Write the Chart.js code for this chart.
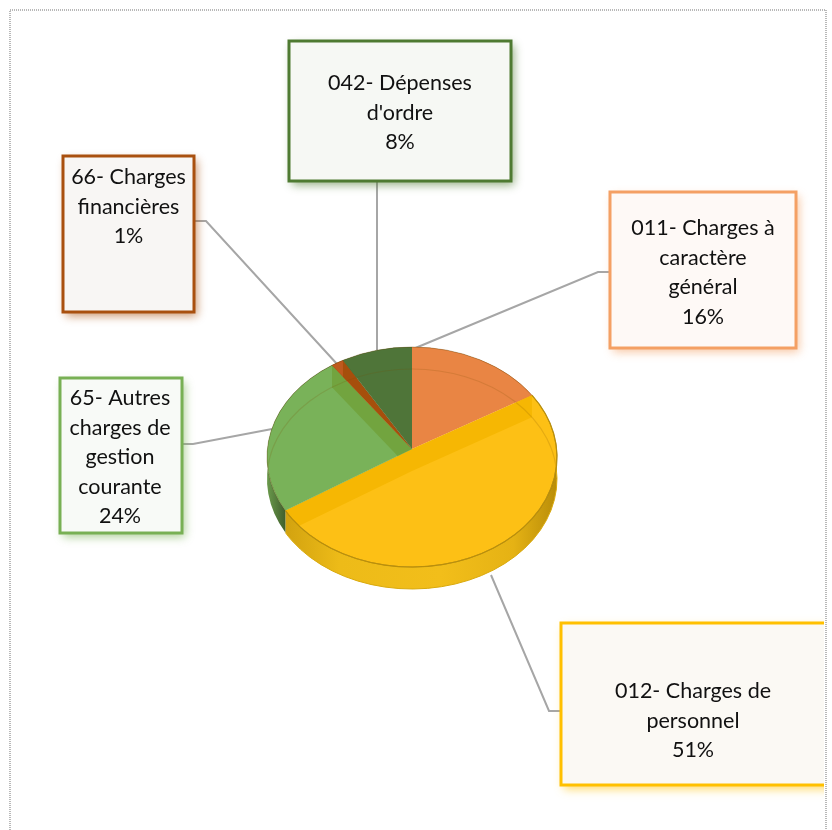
<!DOCTYPE html>
<html>
<head>
<meta charset="utf-8">
<title>Dépenses</title>
<script src="https://cdn.jsdelivr.net/npm/chart.js@4/dist/chart.umd.min.js"></script>
<style>
  html, body { margin: 0; padding: 0; background: #fff; }
  canvas { display: block; }
</style>
</head>
<body>
<canvas id="camembert" width="832" height="830"></canvas>
<script>
// Donnees
var categories = ["011- Charges à caractère général", "012- Charges de personnel", "65- Autres charges de gestion courante", "66- Charges financières", "042- Dépenses d'ordre"];
var valeurs = [15.5, 51.4, 23.8, 1.4, 7.9];
var lignes = [
  ["011- Charges à", "caractère", "général"],
  ["012- Charges de", "personnel"],
  ["65- Autres", "charges de", "gestion", "courante"],
  ["66- Charges", "financières"],
  ["042- Dépenses", "d'ordre"]
];

// Couleurs
var couleurs = ["#E98544", "#FDC015", "#79B259", "#BE5A1E", "#4F7539"];
var couleursParoi = ["#E2803C", "#F6B703", "#72A43F", "#A64F0C", "#4A6E34"];
var couleursBord = ["#F4A064", "#FFC000", "#78B054", "#A9500F", "#4E7A31"];
var fondsBoite = ["#FEF9F6", "#FBF9F4", "#F8FAF7", "#F8F6F4", "#F6F8F4"];

// Mise en page des etiquettes : boite [x, y, largeur, hauteur], centre du premier texte, trait de rappel
var boites = [
  { r: [610, 192, 186, 156], cx: 703, y0: 228, trait: [[610, 272], [598, 272], [413, 349]] },
  { r: [561, 623, 290, 162], cx: 693, y0: 691, trait: [[561, 711], [549, 711], [491, 575]] },
  { r: [60, 378, 122, 155], cx: 120, y0: 398, trait: [[182, 444], [193, 444], [272, 429]] },
  { r: [63, 156, 131, 156], cx: 128.5, y0: 177, trait: [[194, 221], [206, 221], [337, 364]] },
  { r: [289, 41, 222, 140], cx: 400, y0: 83, trait: [[377, 181], [377, 350]] }
];

var ecrasement = 110 / 145;  // rapport ellipse
var epaisseur = 22;
var relevement = 8;          // le sommet est plus haut que le centre (perspective)
var interligne = 29.6;
var limiteDroite = 824;

function propsArc(arc) {
  return arc.getProps(["x", "y", "outerRadius", "startAngle", "endAngle"], true);
}

function secteur(ctx, p) {
  ctx.beginPath();
  ctx.moveTo(p.x, p.y - relevement);
  ctx.ellipse(p.x, p.y, p.outerRadius, p.outerRadius * ecrasement, 0, p.startAngle, p.endAngle);
  ctx.closePath();
}

function dessinerCadre(ctx) {
  ctx.save();
  ctx.strokeStyle = "#B8B8B8";
  ctx.lineWidth = 2;
  ctx.setLineDash([1, 1]);
  ctx.beginPath();
  ctx.moveTo(10, 830);
  ctx.lineTo(10, 10);
  ctx.lineTo(826, 10);
  ctx.lineTo(826, 830);
  ctx.stroke();
  ctx.restore();
}

function dessinerTraits(ctx) {
  ctx.save();
  ctx.strokeStyle = "#A6A6A6";
  ctx.lineWidth = 2;
  boites.forEach(function (b) {
    ctx.beginPath();
    b.trait.forEach(function (pt, i) {
      if (i === 0) ctx.moveTo(pt[0], pt[1]);
      else ctx.lineTo(pt[0], pt[1]);
    });
    ctx.stroke();
  });
  ctx.restore();
}

function dessinerFlanc(ctx, arcs) {
  var x = arcs[0].x, y = arcs[0].y, r = arcs[0].outerRadius;
  var degrade = ctx.createLinearGradient(x - r, 0, x + r, 0);
  degrade.addColorStop(0, "#C99A0C");
  degrade.addColorStop(0.25, "#EDBB18");
  degrade.addColorStop(0.6, "#F2BE1A");
  degrade.addColorStop(0.85, "#E5B214");
  degrade.addColorStop(1, "#B98D08");
  var degradeVert = ctx.createLinearGradient(x - r, 0, x - r + 40, 0);
  degradeVert.addColorStop(0, "#6B9A4C");
  degradeVert.addColorStop(0.5, "#3C5A2A");
  degradeVert.addColorStop(1, "#2F4A20");
  arcs.forEach(function (p, i) {
    ctx.beginPath();
    ctx.ellipse(x, y + epaisseur, r, r * ecrasement, 0, p.startAngle, p.endAngle);
    ctx.ellipse(x, y, r, r * ecrasement, 0, p.endAngle, p.startAngle, true);
    ctx.closePath();
    ctx.fillStyle = i === 1 ? degrade : (i === 2 ? degradeVert : couleursParoi[i]);
    ctx.fill();
    if (i === 1) {
      ctx.beginPath();
      ctx.ellipse(x, y + epaisseur, r, r * ecrasement, 0, p.startAngle, p.endAngle);
      ctx.strokeStyle = "#D9A90C";
      ctx.lineWidth = 1;
      ctx.stroke();
    }
  });
}

function dessinerDessus(ctx, arcs) {
  arcs.forEach(function (p, i) {
    var r = p.outerRadius;
    secteur(ctx, p);
    ctx.fillStyle = couleurs[i];
    ctx.fill();

    // parois vues par transparence et anneau interieur
    ctx.save();
    secteur(ctx, p);
    ctx.clip();
    [p.startAngle, p.endAngle].forEach(function (a) {
      var ex = p.x + Math.cos(a) * r;
      var ey = p.y + Math.sin(a) * r * ecrasement;
      ctx.beginPath();
      ctx.moveTo(p.x, p.y - relevement);
      ctx.lineTo(ex, ey);
      ctx.lineTo(ex, ey + epaisseur);
      ctx.lineTo(p.x, p.y - relevement + epaisseur);
      ctx.closePath();
      ctx.fillStyle = couleursParoi[i];
      ctx.fill();
    });
    ctx.beginPath();
    ctx.ellipse(p.x, p.y + epaisseur, r, r * ecrasement, 0, 0, Math.PI * 2);
    ctx.strokeStyle = "rgba(120,80,0,0.18)";
    ctx.lineWidth = 1.2;
    ctx.stroke();
    ctx.restore();

    // liseré exterieur
    ctx.beginPath();
    ctx.ellipse(p.x, p.y, r, r * ecrasement, 0, p.startAngle, p.endAngle);
    ctx.strokeStyle = "rgba(90,60,0,0.35)";
    ctx.lineWidth = 1;
    ctx.stroke();
  });
  // bord du dessus, cote jaune
  var j = arcs[1];
  ctx.beginPath();
  ctx.ellipse(j.x, j.y, j.outerRadius, j.outerRadius * ecrasement, 0, j.startAngle, j.endAngle);
  ctx.strokeStyle = "#B98F0C";
  ctx.lineWidth = 1.2;
  ctx.stroke();
}

function dessinerBoites(ctx) {
  ctx.save();
  ctx.beginPath();
  ctx.rect(0, 0, limiteDroite, 830);
  ctx.clip();
  boites.forEach(function (b, i) {
    ctx.save();
    ctx.shadowColor = couleursBord[i] + "99";
    ctx.shadowBlur = 9;
    ctx.shadowOffsetX = 3;
    ctx.shadowOffsetY = 4;
    ctx.fillStyle = fondsBoite[i];
    ctx.fillRect(b.r[0], b.r[1], b.r[2], b.r[3]);
    ctx.restore();
    ctx.strokeStyle = couleursBord[i];
    ctx.lineWidth = 3;
    ctx.strokeRect(b.r[0], b.r[1], b.r[2], b.r[3]);

    ctx.fillStyle = "#111111";
    ctx.font = "21.5px Lato";
    ctx.textAlign = "center";
    ctx.textBaseline = "middle";
    var textes = lignes[i].concat([Math.round(valeurs[i]) + "%"]);
    textes.forEach(function (t, k) {
      ctx.fillText(t, b.cx, b.y0 + k * interligne);
    });
  });
  ctx.restore();
}

var pieEllipse = {
  id: "pieEllipse",
  beforeDatasetsDraw: function (chart) {
    var ctx = chart.ctx;
    var arcs = chart.getDatasetMeta(0).data.map(propsArc);
    dessinerCadre(ctx);
    dessinerTraits(ctx);
    dessinerFlanc(ctx, arcs);
    dessinerDessus(ctx, arcs);
  },
  // le dessus est deja peint en ellipse, on saute le dessin rond
  beforeDatasetDraw: function () {
    return false;
  },
  afterDraw: function (chart) {
    dessinerBoites(chart.ctx);
  }
};

new Chart(document.getElementById("camembert"), {
  type: "pie",
  data: {
    labels: categories,
    datasets: [{
      data: valeurs,
      backgroundColor: couleurs,
      borderWidth: 0
    }]
  },
  options: {
    responsive: false,
    animation: false,
    devicePixelRatio: 1,
    layout: { padding: { left: 267, right: 275, top: 312, bottom: 228 } },
    plugins: {
      legend: { display: false },
      tooltip: { enabled: false }
    }
  },
  plugins: [pieEllipse]
});
</script>
</body>
</html>
